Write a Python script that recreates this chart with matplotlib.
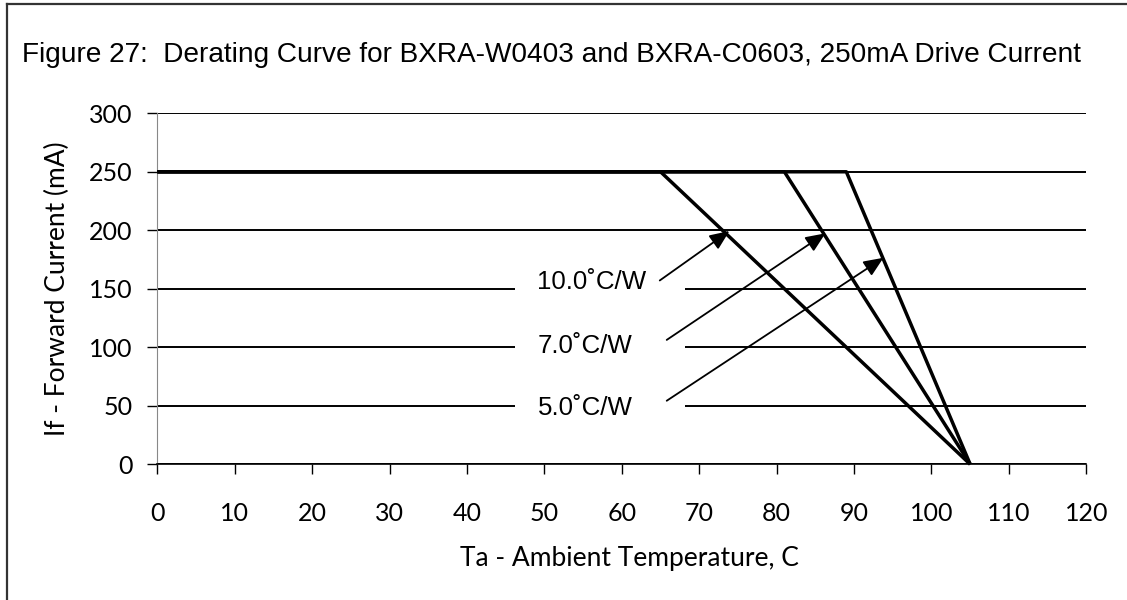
import matplotlib
matplotlib.use('Agg')
import matplotlib.pyplot as plt
from matplotlib.lines import Line2D
from matplotlib.patches import Rectangle

# Data
temps_10 = [0, 65, 105]
temps_7 = [0, 81, 105]
temps_5 = [0, 89, 105]
current = [250, 250, 0]

rth_labels = ['10.0\u02daC/W', '7.0\u02daC/W', '5.0\u02daC/W']
label_y = [149.4, 95.1, 42.3]          # baseline of each label
gap_y = [150, 100, 50]                 # gridlines broken by labels
arrow_start = [(64.9, 157.1), (65.8, 106.3), (65.8, 54.3)]
arrow_tip = [(73.9, 199.4), (86.3, 197.4), (93.8, 176.5)]

x_ticks = list(range(0, 121, 10))
y_ticks = list(range(0, 301, 50))

title = 'Figure 27:  Derating Curve for BXRA-W0403 and BXRA-C0603, 250mA Drive Current'
xlabel = 'Ta - Ambient Temperature, C'
ylabel = 'If - Forward Current (mA)'

fig = plt.figure(figsize=(11.27, 6.0), dpi=100)
ax = fig.add_axes([0.1396, 0.2262, 0.8243, 0.585])

# gridlines
ax.set_axisbelow(True)
ax.yaxis.grid(True, color='black', lw=1.4)
ax.xaxis.grid(False)

# white gaps behind the labels
for y in gap_y:
    ax.add_patch(Rectangle((46.2, y - 8), 22.0, 16, fc='white', ec='none', zorder=1))

for t in (temps_10, temps_7, temps_5):
    ax.plot(t, current, color='black', lw=2.5, solid_capstyle='butt', zorder=3, clip_on=False)

for lab, y in zip(rth_labels, label_y):
    ax.text(49.1, y, lab, fontsize=18.6, fontfamily='Liberation Sans',
            ha='left', va='baseline', zorder=4)

for s, e in zip(arrow_start, arrow_tip):
    ax.annotate('', xy=e, xytext=s,
                arrowprops=dict(arrowstyle='-|>,head_length=0.75,head_width=0.32',
                                color='black', lw=1.3, mutation_scale=16,
                                shrinkA=0, shrinkB=0),
                zorder=5)

ax.set_xlim(0, 120)
ax.set_ylim(0, 300)
ax.set_xticks(x_ticks)
ax.set_yticks(y_ticks)

for side in ('top', 'right'):
    ax.spines[side].set_visible(False)
ax.spines['left'].set_color('#888888')
ax.spines['left'].set_linewidth(0.8)
ax.spines['bottom'].set_color('black')
ax.spines['bottom'].set_linewidth(1.2)

ax.tick_params(axis='x', direction='out', length=7, width=1, color='black', pad=20,
               labelsize=18)
ax.tick_params(axis='y', direction='out', length=7, width=1, color='black', pad=11,
               labelsize=18)
for lbl in ax.get_xticklabels() + ax.get_yticklabels():
    lbl.set_family('Lato')

ax.set_xlabel(xlabel, fontsize=19, family='Lato', va='baseline')
ax.xaxis.set_label_coords(0.508, -0.290)
ax.set_ylabel(ylabel, fontsize=19, family='Lato', va='center')
ax.yaxis.set_label_coords(-0.107, 0.5)

fig.text(0.0193, 0.897, title, fontsize=20.2, family='Liberation Sans',
         ha='left', va='baseline')

# partial outer frame (left and top edges)
fig.add_artist(Line2D([6.7 / 1127, 6.7 / 1127], [0, 1 - 4.3 / 600],
                      transform=fig.transFigure, color='#333333', lw=1.6))
fig.add_artist(Line2D([6.7 / 1127, 1], [1 - 4.3 / 600, 1 - 4.3 / 600],
                      transform=fig.transFigure, color='#333333', lw=1.6))

fig.savefig('out.png', dpi=100)
